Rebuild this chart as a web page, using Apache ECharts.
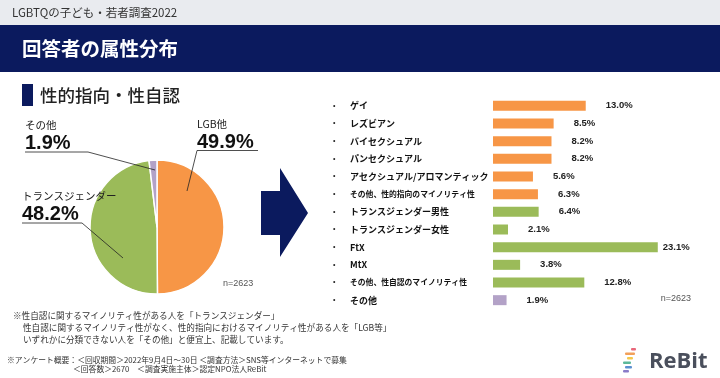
<!DOCTYPE html>
<html><head><meta charset="utf-8">
<script src="https://cdn.jsdelivr.net/npm/echarts@6/dist/echarts.min.js"></script>
<style>html,body{margin:0;padding:0;background:#fff}#c{width:720px;height:378px}</style>
</head><body><div id="c"></div>
<script>
const pieNames = ['LGB他', 'トランスジェンダー', 'その他'];
const pieValues = [49.9, 48.2, 1.9];
const barCategories = ['ゲイ', 'レズビアン', 'バイセクシュアル', 'パンセクシュアル', 'アセクシュアル/アロマンティック', 'その他、性的指向のマイノリティ性', 'トランスジェンダー男性', 'トランスジェンダー女性', 'FtX', 'MtX', 'その他、性自認のマイノリティ性', 'その他'];
const barValues = [13.0, 8.5, 8.2, 8.2, 5.6, 6.3, 6.4, 2.1, 23.1, 3.8, 12.8, 1.9];
const barGroups = ['LGB', 'LGB', 'LGB', 'LGB', 'LGB', 'LGB', 'T', 'T', 'T', 'T', 'T', 'O'];
const sampleLabel = 'n=2623';

const NAVY = '#0B1A5E';
const groupColor = { LGB: '#F79646', T: '#9BBB59', O: '#B3A2C7' };
const pieColors = ['#F79646', '#9BBB59', '#B3A2C7'];
const JP = '"Noto Sans CJK JP", sans-serif';
const LAT = '"Liberation Sans", Arial, sans-serif';

// annotation placement for the pie labels and their leader lines
const pieLabelLayout = [
  { x: 197, y: 153, line: [[187, 191], [197, 150.5], [258, 150.5]] },
  { x: 22, y: 225.5, line: [[123, 258], [82, 223], [22, 223]] },
  { x: 25, y: 154.5, line: [[155, 170], [88, 152], [25, 152]] }
];

const maxBar = Math.max(...barValues);
const chart = echarts.init(document.getElementById('c'), null, { renderer: 'canvas' });

const leaderLines = pieLabelLayout.map(L => ({
  type: 'polyline', shape: { points: L.line }, style: { stroke: '#222', lineWidth: 0.8, fill: null }, z: 10
}));

const option = {
  animation: false,
  backgroundColor: '#fff',
  graphic: [
    { type: 'rect', shape: { x: 0, y: 0, width: 720, height: 25 }, style: { fill: '#E9EBEF' } },
    { type: 'text', x: 12, y: 12.5, style: { text: 'LGBTQの子ども・若者調査2022', font: '11.5px ' + JP, fill: '#333', verticalAlign: 'middle' } },
    { type: 'rect', shape: { x: 0, y: 25, width: 720, height: 47 }, style: { fill: NAVY } },
    { type: 'text', x: 22, y: 48.5, style: { text: '回答者の属性分布', font: 'bold 19.5px ' + JP, fill: '#fff', verticalAlign: 'middle' } },
    { type: 'rect', shape: { x: 22, y: 84, width: 11, height: 22 }, style: { fill: NAVY } },
    { type: 'text', x: 40, y: 95, style: { text: '性的指向・性自認', font: '500 17.5px ' + JP, fill: '#222', verticalAlign: 'middle' } },
    { type: 'polygon', shape: { points: [[261, 191], [280, 191], [280, 168], [308, 213], [280, 257], [280, 235], [261, 235]] }, style: { fill: NAVY } },
    { type: 'text', x: 223, y: 284, style: { text: sampleLabel, font: '9px ' + LAT, fill: '#555', verticalAlign: 'middle' } },
    { type: 'text', x: 691, y: 299, style: { text: sampleLabel, font: '9px ' + LAT, fill: '#555', align: 'right', verticalAlign: 'middle' } },
    { type: 'text', x: 13, y: 316, style: { text: '※性自認に関するマイノリティ性がある人を「トランスジェンダー」', font: '8.6px ' + JP, fill: '#333', verticalAlign: 'middle' } },
    { type: 'text', x: 23, y: 328, style: { text: '性自認に関するマイノリティ性がなく、性的指向におけるマイノリティ性がある人を「LGB等」', font: '8.6px ' + JP, fill: '#333', verticalAlign: 'middle' } },
    { type: 'text', x: 23, y: 340, style: { text: 'いずれかに分類できない人を「その他」と便宜上、記載しています。', font: '8.6px ' + JP, fill: '#333', verticalAlign: 'middle' } },
    { type: 'text', x: 7, y: 360, style: { text: '※アンケート概要：＜回収期間＞2022年9月4日〜30日 ＜調査方法＞SNS等インターネットで募集', font: '7.8px ' + JP, fill: '#333', verticalAlign: 'middle' } },
    { type: 'text', x: 73, y: 369.5, style: { text: '＜回答数＞2670　＜調査実施主体＞認定NPO法人ReBit', font: '7.8px ' + JP, fill: '#333', verticalAlign: 'middle' } },
    { type: 'rect', shape: { x: 631, y: 348, width: 5, height: 2.5, r: 1 }, style: { fill: '#E8677A' } },
    { type: 'rect', shape: { x: 625, y: 352.5, width: 10, height: 2.5, r: 1 }, style: { fill: '#F2A05A' } },
    { type: 'rect', shape: { x: 627, y: 357, width: 6, height: 2.5, r: 1 }, style: { fill: '#F5C84C' } },
    { type: 'rect', shape: { x: 623, y: 361.5, width: 8, height: 2.5, r: 1 }, style: { fill: '#5BB89A' } },
    { type: 'rect', shape: { x: 625, y: 366, width: 7, height: 2.5, r: 1 }, style: { fill: '#5A8FD0' } },
    { type: 'rect', shape: { x: 623, y: 370, width: 6, height: 2.5, r: 1 }, style: { fill: '#8A7BC8' } },
    { type: 'text', x: 649, y: 362, style: { text: 'ReBit', font: 'bold 22px "Open Sans", ' + LAT, fill: '#4A4F5C', verticalAlign: 'middle' } }
  ].concat(leaderLines),
  grid: { left: 493, top: 97, width: 214, height: 212, containLabel: false },
  xAxis: { type: 'value', min: 0, max: 30, show: false },
  yAxis: {
    type: 'category', data: barCategories, inverse: true,
    axisLine: { show: false }, axisTick: { show: false }, splitLine: { show: false },
    axisLabel: {
      margin: 160, align: 'left',
      formatter: v => '{d|•}{t' + (v.length >= 15 && v.indexOf('、') >= 0 ? 's' : '') + '|' + v + '}',
      rich: {
        d: { width: 17, fontSize: 7, color: '#222' },
        t: { fontSize: 9, fontWeight: 'bold', color: '#111', fontFamily: JP },
        ts: { fontSize: 7.8, fontWeight: 'bold', color: '#111', fontFamily: JP }
      }
    }
  },
  series: [
    {
      type: 'bar', barWidth: 10,
      data: barValues.map((v, i) => ({
        value: v,
        itemStyle: { color: groupColor[barGroups[i]] },
        label: { distance: v === maxBar ? 5 : 20 }
      })),
      label: {
        show: true, position: 'right',
        formatter: p => p.value.toFixed(1) + '%',
        fontSize: 9.5, fontWeight: 'bold', color: '#222', fontFamily: LAT
      },
      emphasis: { disabled: true }
    },
    {
      type: 'pie', center: [157, 227], radius: 67, startAngle: 90, clockwise: true,
      data: pieValues.map((v, i) => ({ name: pieNames[i], value: v, itemStyle: { color: pieColors[i] } })),
      itemStyle: { borderColor: '#fff', borderWidth: 1.5 },
      label: {
        show: true, position: 'outside', width: 120, overflow: 'none',
        formatter: p => '{n|' + p.name + '}\n{p|' + p.value.toFixed(1) + '%}',
        rich: {
          n: { fontSize: 10.5, color: '#222', fontFamily: JP, lineHeight: 14 },
          p: { fontSize: 20, fontWeight: 'bold', color: '#111', fontFamily: LAT, lineHeight: 22 }
        }
      },
      labelLine: { show: false },
      labelLayout: p => {
        const L = pieLabelLayout[p.dataIndex];
        return { x: L.x, y: L.y, align: 'left', verticalAlign: 'bottom' };
      },
      emphasis: { disabled: true }
    }
  ]
};
chart.setOption(option);
</script></body></html>
